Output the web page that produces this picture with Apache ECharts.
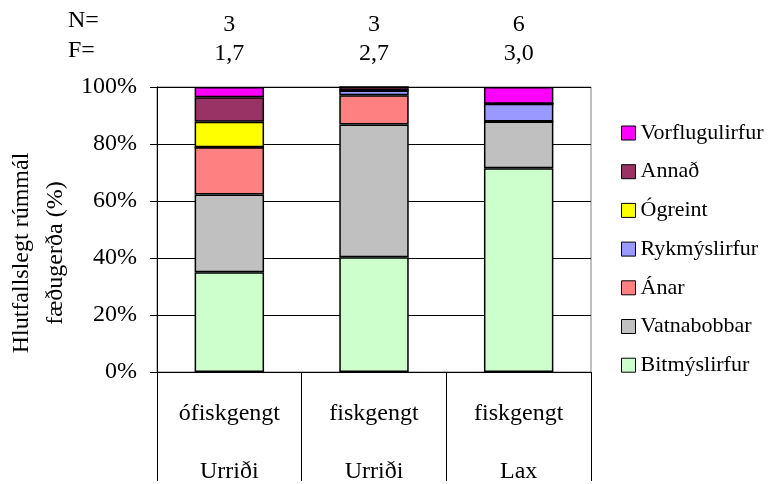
<!DOCTYPE html>
<html>
<head>
<meta charset="utf-8">
<script src="https://cdn.jsdelivr.net/npm/echarts@6/dist/echarts.min.js"></script>
<style>
  html, body { margin: 0; padding: 0; background: #fff; }
  #chart { width: 772px; height: 484px; }
</style>
</head>
<body>
<div id="chart"></div>
<script>
// Categories: stream type (top row) and fish species (bottom row)
const categories = ['ófiskgengt', 'fiskgengt', 'fiskgengt'];
const species = ['Urriði', 'Urriði', 'Lax'];
// Sample size and mean fullness shown above each bar
const nValues = ['3', '3', '6'];
const fValues = ['1,7', '2,7', '3,0'];

// Relative volume (%) of each food type
const bitmyslirfur   = [35.0, 40.3, 71.5];
const vatnabobbar    = [27.3, 46.5, 16.4];
const anar           = [16.6, 10.3, 0];
const rykmyslirfur   = [0, 1.7, 6.2];
const ogreint        = [8.9, 0, 0];
const annad          = [8.6, 1.2, 0];
const vorflugulirfur = [3.6, 0, 5.9];

const seriesDefs = [
  { name: 'Bitmýslirfur',   data: bitmyslirfur,   color: '#CCFFCC' },
  { name: 'Vatnabobbar',    data: vatnabobbar,    color: '#C0C0C0' },
  { name: 'Ánar',           data: anar,           color: '#FF8080' },
  { name: 'Rykmýslirfur',   data: rykmyslirfur,   color: '#9999FF' },
  { name: 'Ógreint',        data: ogreint,        color: '#FFFF00' },
  { name: 'Annað',          data: annad,          color: '#993366' },
  { name: 'Vorflugulirfur', data: vorflugulirfur, color: '#FF00FF' }
];

const FONT = "'Liberation Serif', 'Times New Roman', Times, serif";
const axisKeys = categories.map((c, i) => c + '\n' + species[i]);

const chart = echarts.init(document.getElementById('chart'), null, { renderer: 'canvas' });

chart.setOption({
  animation: false,
  backgroundColor: '#fff',
  textStyle: { fontFamily: FONT, color: '#000' },
  grid: {
    left: 157, right: 181, top: 87, bottom: 109,
    show: true, borderColor: '#808080', borderWidth: 1, backgroundColor: 'transparent'
  },
  legend: {
    orient: 'vertical',
    left: 616,
    top: 116,
    icon: 'rect',
    itemWidth: 14,
    itemHeight: 14,
    itemGap: 14.7,
    itemStyle: { borderColor: '#000', borderWidth: 1 },
    textStyle: { fontFamily: FONT, fontSize: 22, color: '#000', lineHeight: 24 },
    data: seriesDefs.map(s => s.name).reverse()
  },
  xAxis: [
    {
      type: 'category',
      position: 'bottom',
      data: axisKeys,
      axisLine: { show: true, lineStyle: { color: '#000', width: 1 } },
      axisTick: { show: true, length: 109, lineStyle: { color: '#000', width: 1 } },
      axisLabel: {
        interval: 0,
        margin: 13,
        fontFamily: FONT,
        color: '#000',
        formatter: (v, i) => `{a|${categories[i]}}\n{b|${species[i]}}`,
        rich: {
          a: { fontFamily: FONT, fontSize: 24, lineHeight: 58, color: '#000' },
          b: { fontFamily: FONT, fontSize: 24, lineHeight: 58, color: '#000' }
        }
      },
      splitLine: { show: false }
    },
    {
      type: 'category',
      position: 'top',
      data: axisKeys,
      axisLine: { show: false },
      axisTick: { show: false },
      axisLabel: {
        interval: 0,
        margin: 19,
        fontFamily: FONT,
        color: '#000',
        formatter: (v, i) => `{n|${nValues[i]}}\n{f|${fValues[i]}}`,
        rich: {
          n: { fontFamily: FONT, fontSize: 24, lineHeight: 29, color: '#000' },
          f: { fontFamily: FONT, fontSize: 24, lineHeight: 29, color: '#000' }
        }
      },
      splitLine: { show: false }
    }
  ],
  yAxis: {
    type: 'value',
    min: 0,
    max: 100,
    interval: 20,
    axisLine: { show: true, lineStyle: { color: '#000', width: 1 } },
    axisTick: { show: true, length: 7, lineStyle: { color: '#000', width: 1 } },
    axisLabel: { margin: 20, fontFamily: FONT, fontSize: 24, color: '#000', formatter: '{value}%' },
    splitLine: { show: true, lineStyle: { color: '#000', width: 1 } }
  },
  graphic: [
    {
      type: 'text',
      x: 39, y: 253,
      rotation: Math.PI / 2,
      style: {
        text: 'Hlutfallslegt rúmmál\nfæðugerða (%)',
        fontFamily: FONT, fontSize: 24, lineHeight: 34,
        fill: '#000', align: 'center', verticalAlign: 'middle'
      }
    },
    {
      type: 'text', x: 68, y: 21,
      style: { text: 'N=', fontFamily: FONT, fontSize: 24, fill: '#000', align: 'left', verticalAlign: 'middle' }
    },
    {
      type: 'text', x: 68, y: 51,
      style: { text: 'F=', fontFamily: FONT, fontSize: 24, fill: '#000', align: 'left', verticalAlign: 'middle' }
    }
  ],
  series: seriesDefs.map(s => ({
    name: s.name,
    type: 'bar',
    stack: 'total',
    xAxisIndex: 0,
    barWidth: '48%',
    data: s.data,
    itemStyle: { color: s.color, borderColor: '#000', borderWidth: 1.5 },
    emphasis: { disabled: true }
  }))
});
</script>
</body>
</html>
